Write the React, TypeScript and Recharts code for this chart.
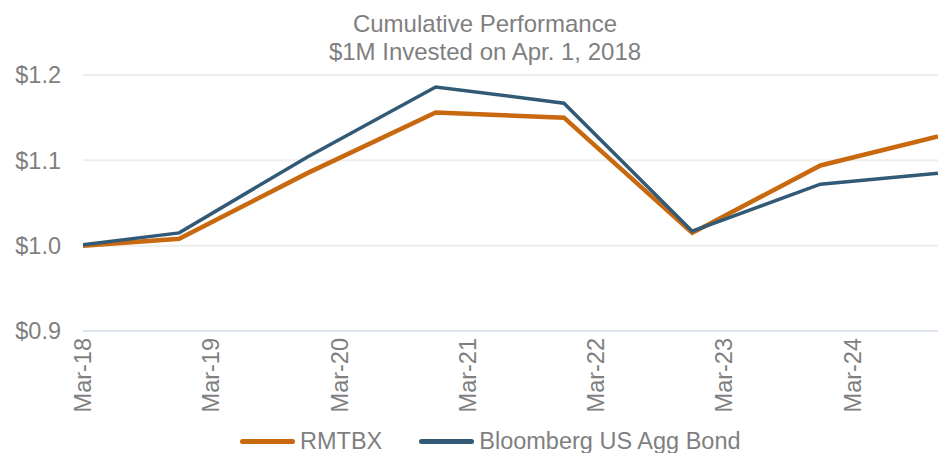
import React from 'react';
import { LineChart, Line, XAxis, YAxis, CartesianGrid, Legend } from 'recharts';

const monthIndex = [0, 9, 21, 33, 45, 57, 69, 80];
const periodLabels = ['Mar-18', 'Dec-18', 'Dec-19', 'Dec-20', 'Dec-21', 'Dec-22', 'Dec-23', 'Nov-24'];
const rmtbx = [1.0, 1.008, 1.085, 1.156, 1.15, 1.015, 1.094, 1.128];
const aggBond = [1.001, 1.015, 1.104, 1.186, 1.167, 1.017, 1.072, 1.085];

const xTickValues = [0, 12, 24, 36, 48, 60, 72];
const xTickLabels = ['Mar-18', 'Mar-19', 'Mar-20', 'Mar-21', 'Mar-22', 'Mar-23', 'Mar-24'];
const yTickValues = [0.9, 1.0, 1.1, 1.2];

const seriesNames = ['RMTBX', 'Bloomberg US Agg Bond'];
const seriesColors = ['#c8680f', '#325a76'];

const data = monthIndex.map((m, i) => ({
  m,
  period: periodLabels[i],
  rmtbx: rmtbx[i],
  agg: aggBond[i],
}));

const GRAY = '#7f7f7f';
const FONT = '"Liberation Sans", Arial, sans-serif';

const XTick = (props: any) => {
  const { x, y, payload } = props;
  const idx = xTickValues.indexOf(payload.value);
  return (
    <g transform={`translate(${x},${y})`}>
      <text
        transform="rotate(-90)"
        x={-7}
        y={0}
        dy="0.35em"
        textAnchor="end"
        fill={GRAY}
        fontSize={23.5}
        fontFamily={FONT}
      >
        {idx >= 0 ? xTickLabels[idx] : ''}
      </text>
    </g>
  );
};

const LegendContent = () => (
  <div
    style={{
      display: 'flex',
      alignItems: 'center',
      fontFamily: FONT,
      fontSize: 23.5,
      color: GRAY,
      lineHeight: '24px',
      height: 24,
    }}
  >
    {seriesNames.map((n, i) => (
      <div key={n} style={{ display: 'flex', alignItems: 'center', marginRight: i === 0 ? 37 : 0 }}>
        <div
          style={{
            width: 55,
            height: 5,
            borderRadius: 3,
            background: seriesColors[i],
            marginRight: 5,
          }}
        />
        <span>{n}</span>
      </div>
    ))}
  </div>
);

export default function App() {
  return (
    <div style={{ position: 'absolute', left: 0, top: 0, width: 938, height: 453, background: '#fff' }}>
      <div
        style={{
          position: 'absolute',
          left: 0,
          top: 10,
          width: 938,
          textAlign: 'center',
          fontFamily: FONT,
          fontSize: 24,
          lineHeight: '28px',
          color: GRAY,
          paddingLeft: 32,
          boxSizing: 'border-box',
        }}
      >
        <div>Cumulative Performance</div>
        <div>$1M Invested on Apr. 1, 2018</div>
      </div>
      <LineChart
        width={938}
        height={453}
        data={data}
        margin={{ top: 75, right: 0, bottom: 0, left: 0 }}
        style={{ position: 'absolute', left: 0, top: 0 }}
      >
        <CartesianGrid vertical={false} stroke="#eeeeee" strokeWidth={2} />
        <XAxis
          dataKey="m"
          type="number"
          domain={[0, 80]}
          ticks={xTickValues}
          tick={<XTick />}
          tickLine={false}
          tickSize={0}
          tickMargin={0}
          height={98}
          axisLine={{ stroke: '#dbe3ed', strokeWidth: 2 }}
          interval={0}
          allowDataOverflow
        />
        <YAxis
          type="number"
          domain={[0.9, 1.2]}
          ticks={yTickValues}
          width={83}
          axisLine={false}
          tickLine={false}
          tickSize={0}
          tickMargin={22}
          tickFormatter={(v: number) => `$${v.toFixed(1)}`}
          tick={{ fill: GRAY, fontSize: 23.5, fontFamily: FONT }}
          interval={0}
        />
        <Legend
          content={<LegendContent />}
          wrapperStyle={{ position: 'absolute', left: 240, top: 429, width: 'auto' }}
        />
        <Line
          dataKey="rmtbx"
          name={seriesNames[0]}
          stroke={seriesColors[0]}
          strokeWidth={4.5}
          dot={false}
          activeDot={false}
          isAnimationActive={false}
        />
        <Line
          dataKey="agg"
          name={seriesNames[1]}
          stroke={seriesColors[1]}
          strokeWidth={3.5}
          dot={false}
          activeDot={false}
          isAnimationActive={false}
        />
      </LineChart>
    </div>
  );
}
